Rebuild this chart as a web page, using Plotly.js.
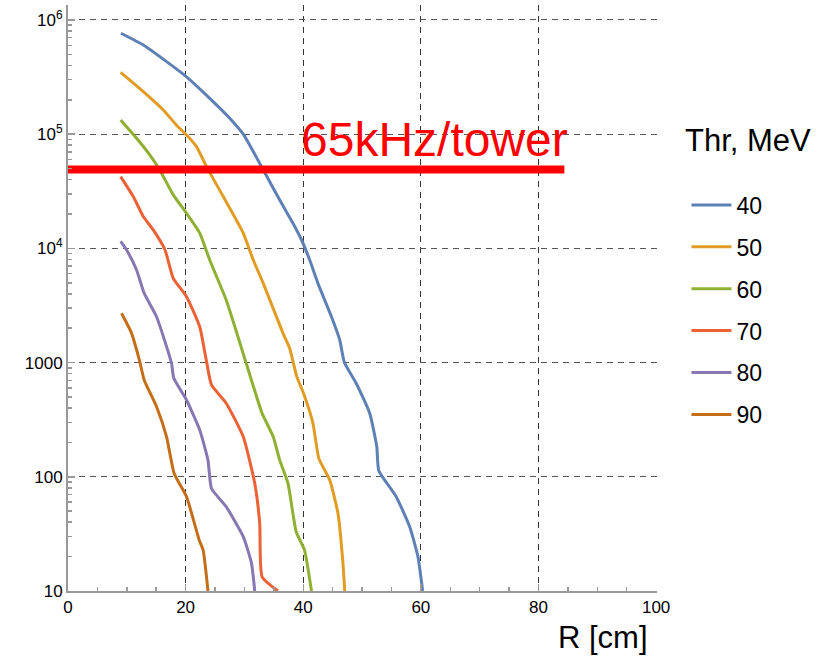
<!DOCTYPE html>
<html>
<head>
<meta charset="utf-8">
<script src="https://cdn.plot.ly/plotly-3.0.1.min.js"></script>
<style>html,body{margin:0;padding:0;background:#fff;}#chart{width:834px;height:662px;}</style>
</head>
<body>
<div id="chart"></div>
<script>
// Data
const thresholds = ["40", "50", "60", "70", "80", "90"];
const colors = ["#5E81B5", "#E19C24", "#8FB032", "#EB6235", "#8778B3", "#C56E1A"];

const r40 = [9.0, 12.8, 16.76, 20.15, 24.1, 27.5, 29.8, 32.9, 36.0, 38.25, 39.7, 41.1, 42.6, 44.8, 46.2, 47.0, 49.0, 51.3, 52.5, 52.85, 55.8, 58.1, 59.5, 60.3];
const v40 = [765000, 604000, 432000, 318000, 206000, 138000, 100000, 52000, 26500, 16600, 11900, 7910, 4790, 2520, 1580, 1000, 659, 360, 184, 113, 67, 36.6, 20, 10];

const r50 = [8.95, 12.8, 16.2, 18.7, 20.15, 21.85, 23.55, 26.4, 29.8, 31.5, 33.2, 36.55, 37.7, 38.9, 40.05, 41.65, 42.65, 44.5, 45.9, 46.75, 47.05];
const v50 = [348000, 236000, 163000, 116000, 98400, 77800, 52000, 28400, 13600, 7910, 4940, 1810, 1330, 753, 538, 294, 145, 93.8, 47.9, 17.5, 10];

const r60 = [8.95, 11.66, 13.9, 15.6, 17.9, 20.15, 22.4, 24.1, 26.9, 30.3, 33.0, 34.9, 36.0, 37.4, 38.8, 40.2, 41.4];
const v60 = [133000, 92000, 65800, 48600, 29400, 20300, 13600, 7910, 3530, 986, 360, 224, 140, 87.8, 33, 22.9, 10];

const r70 = [8.95, 11.1, 12.8, 14.5, 16.5, 17.9, 20.15, 22.4, 23.5, 24.4, 26.9, 29.8, 31.75, 32.6, 33.0, 35.7];
const v70 = [42500, 28400, 19000, 14500, 9680, 5470, 3780, 2060, 1055, 637, 441, 224, 87.8, 39, 13.3, 10];

const r80 = [8.95, 9.96, 11.66, 12.95, 15.06, 16.76, 17.6, 18.0, 20.15, 22.4, 23.8, 24.4, 26.9, 29.8, 31.2, 31.75];
const v80 = [11500, 9680, 6470, 4050, 2520, 1380, 986, 728, 470, 257, 140, 79, 54.7, 29.9, 17.5, 10];

const r90 = [9.1, 10.8, 12.2, 12.95, 15.06, 16.76, 18.05, 20.15, 22.3, 22.97, 23.8];
const v90 = [2700, 1810, 1020, 705, 411, 224, 107, 67, 28, 22.9, 10];

const limitR = [0, 84.4];
const limitV = [49000, 49000];
const limitLabel = "65kHz/tower";

const xTickVals = [0, 20, 40, 60, 80, 100];
const yTickVals = [10, 100, 1000, 10000, 100000, 1000000];
const yTickText = ["10", "100", "1000", "10<sup>4</sup>", "10<sup>5</sup>", "10<sup>6</sup>"];

const xs = [r40, r50, r60, r70, r80, r90];
const ys = [v40, v50, v60, v70, v80, v90];

const FONT = "Arial, 'Liberation Sans', sans-serif";

const traces = thresholds.map((t, i) => ({
  type: "scatter",
  mode: "lines",
  x: xs[i],
  y: ys[i],
  name: t,
  legendgroup: "g" + t,
  line: {color: colors[i], width: 3, shape: "spline", smoothing: 0.5}
}));

traces.push({
  type: "scatter",
  mode: "lines",
  x: limitR,
  y: limitV,
  showlegend: false,
  hoverinfo: "skip",
  line: {color: "#FF0000", width: 8}
});

// minor tick positions on log axis
const yMinor = [];
for (let e = 1; e <= 6; e++) {
  for (let m = 2; m <= 9; m++) yMinor.push(m * Math.pow(10, e));
}

const layout = {
  width: 834,
  height: 662,
  margin: {l: 68, r: 177, t: 5, b: 71},
  paper_bgcolor: "#fff",
  plot_bgcolor: "#fff",
  font: {family: FONT, size: 17, color: "#000"},
  showlegend: true,
  xaxis: {
    range: [0, 100.15],
    tickvals: xTickVals,
    ticktext: xTickVals.map(String),
    ticks: "inside",
    ticklen: 7,
    tickcolor: "#999",
    tickwidth: 1.5,
    showline: true,
    linecolor: "#999",
    linewidth: 2,
    showgrid: true,
    gridcolor: "#333",
    griddash: "6px,5px",
    gridwidth: 1,
    zeroline: false,
    tickfont: {size: 17, family: FONT, color: "#000"},
    minor: {dtick: 5, ticks: "inside", ticklen: 4, tickcolor: "#999", tickwidth: 1.5, showgrid: false}
  },
  yaxis: {
    type: "log",
    range: [1, 6.131],
    tickvals: yTickVals,
    ticktext: yTickText,
    ticks: "inside",
    ticklen: 7,
    tickcolor: "#999",
    tickwidth: 1.5,
    showline: true,
    linecolor: "#999",
    linewidth: 2,
    showgrid: true,
    gridcolor: "#555",
    griddash: "6px,5px",
    gridwidth: 1,
    zeroline: false,
    tickfont: {size: 17, family: FONT, color: "#000"},
    minor: {tickmode: "array", tickvals: yMinor, ticks: "inside", ticklen: 4, tickcolor: "#999", tickwidth: 1.5, showgrid: false}
  },
  legend: {
    x: 1.05,
    y: 0.6955,
    xanchor: "left",
    yanchor: "top",
    font: {size: 23, family: FONT, color: "#000"},
    tracegroupgap: 9,
    itemwidth: 40,
    bgcolor: "rgba(0,0,0,0)"
  },
  annotations: [
    {
      text: limitLabel,
      xref: "paper", yref: "paper",
      x: 0.622, y: 0.771,
      xanchor: "center", yanchor: "middle",
      showarrow: false,
      font: {size: 48, family: FONT, color: "#FF0000"}
    },
    {
      text: "Thr, MeV",
      xref: "paper", yref: "paper",
      x: 1.155, y: 0.768,
      xanchor: "center", yanchor: "middle",
      showarrow: false,
      font: {size: 31, family: FONT, color: "#000"}
    },
    {
      text: "R [cm]",
      xref: "paper", yref: "paper",
      x: 0.908, y: -0.0785,
      xanchor: "center", yanchor: "middle",
      showarrow: false,
      font: {size: 31, family: FONT, color: "#000"}
    }
  ]
};

Plotly.newPlot("chart", traces, layout, {displayModeBar: false, staticPlot: true});
</script>
</body>
</html>
